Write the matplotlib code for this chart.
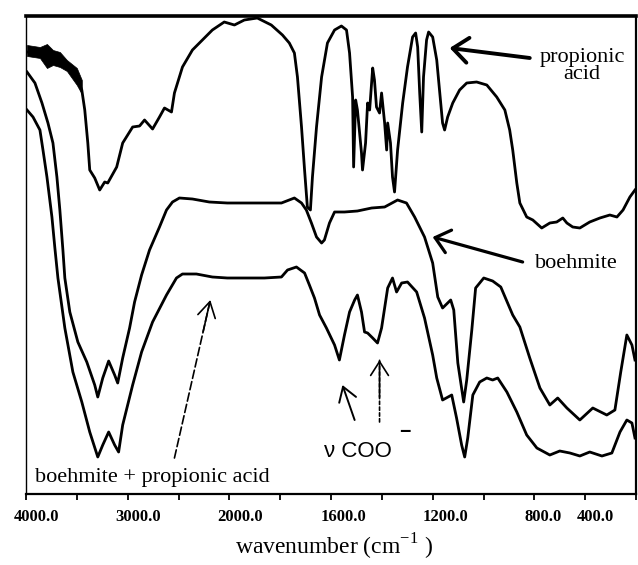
import numpy as np
import matplotlib
matplotlib.use("Agg")
import matplotlib.pyplot as plt
import matplotlib.transforms as mtransforms

plt.rcParams['font.family'] = ['Liberation Serif', 'DejaVu Serif']
plt.rcParams['mathtext.fontset'] = 'custom'
plt.rcParams['mathtext.rm'] = 'Liberation Serif'

# ---- data (transmittance, arbitrary units) ----
prop_wn = [3990, 3863, 3735, 3598, 3500, 3451, 3422, 3392, 3373, 3324,
           3275, 3226, 3196, 3108, 3049, 2951, 2883, 2834, 2755, 2687,
           2638, 2569, 2540, 2461, 2363, 2265, 2167, 2050, 1980, 1941,
           1890, 1835, 1791, 1764, 1744, 1732, 1716, 1704, 1693, 1681,
           1673, 1657, 1637, 1614, 1586, 1559, 1539, 1527, 1515, 1511,
           1503, 1496, 1480, 1476, 1464, 1456, 1448, 1436, 1429, 1421,
           1409, 1401, 1389, 1381, 1377, 1366, 1358, 1350, 1338, 1318,
           1299, 1279, 1267, 1259, 1251, 1243, 1236, 1224, 1216, 1200,
           1184, 1172, 1161, 1153, 1141, 1121, 1094, 1066, 1027, 987,
           948, 916, 897, 885, 869, 857, 830, 806, 771, 739,
           712, 688, 672, 649, 621, 582, 542, 503, 475, 451,
           424, 404]
prop_val = [440, 439, 434, 427, 415, 402, 382, 349, 322, 314,
            302, 310, 309, 325, 349, 365, 366, 372, 363, 375,
            384, 380, 399, 425, 442, 452, 462, 470, 467, 472,
            474, 467, 457, 449, 439, 415, 365, 322, 285, 282,
            315, 365, 415, 449, 462, 466, 462, 439, 395, 325,
            392, 382, 339, 322, 349, 389, 382, 424, 412, 385,
            379, 399, 369, 342, 369, 349, 315, 300, 342, 389,
            425, 455, 459, 445, 399, 360, 415, 452, 460, 455,
            432, 399, 369, 362, 375, 389, 402, 409, 410, 407,
            395, 382, 362, 342, 309, 289, 275, 272, 264, 269,
            270, 274, 269, 265, 264, 270, 274, 277, 275, 282,
            295, 302]

# noisy start of the propionic acid trace (upper / lower envelope)
noise_wn = [3990, 3863, 3794, 3735, 3667, 3598, 3500, 3451]
noise_hi = [447, 445, 448, 442, 440, 432, 424, 412]
noise_lo = [436, 434, 424, 427, 425, 421, 407, 398]

boeh_wn = [3990, 3912, 3843, 3784, 3735, 3696, 3667, 3637, 3618, 3569,
           3490, 3402, 3324, 3294, 3245, 3187, 3128, 3098, 3049, 2981,
           2932, 2863, 2785, 2687, 2618, 2559, 2491, 2363, 2197, 2020,
           1941, 1862, 1795, 1744, 1716, 1697, 1677, 1657, 1637, 1626,
           1606, 1586, 1547, 1496, 1440, 1389, 1338, 1303, 1271, 1232,
           1200, 1180, 1161, 1129, 1117, 1101, 1078, 1066, 1046, 1031,
           999, 964, 932, 885, 857, 818, 778, 739, 708, 672,
           621, 570, 515, 483, 460, 436, 416, 404]
boeh_val = [420, 409, 389, 369, 349, 315, 282, 242, 214, 180,
            150, 130, 107, 95, 114, 131, 117, 109, 134, 164,
            190, 217, 242, 265, 282, 290, 294, 293, 290, 289,
            289, 289, 289, 294, 289, 282, 269, 255, 249, 252,
            269, 280, 280, 281, 284, 285, 292, 289, 275, 255,
            229, 195, 184, 192, 182, 129, 90, 112, 162, 204,
            214, 211, 205, 177, 165, 134, 104, 87, 94, 84,
            72, 84, 77, 82, 120, 157, 147, 132]

mix_wn = [3990, 3931, 3863, 3833, 3794, 3745, 3716, 3686, 3618, 3539,
          3451, 3373, 3294, 3245, 3187, 3128, 3089, 3049, 2951, 2863,
          2755, 2618, 2520, 2461, 2324, 2167, 2020, 1941, 1862, 1795,
          1771, 1736, 1704, 1685, 1665, 1645, 1618, 1586, 1567, 1547,
          1527, 1507, 1496, 1480, 1468, 1456, 1436, 1417, 1401, 1377,
          1358, 1342, 1322, 1299, 1263, 1232, 1200, 1184, 1161, 1125,
          1106, 1086, 1074, 1062, 1042, 1015, 987, 964, 944, 908,
          869, 830, 790, 739, 700, 660, 621, 582, 534, 495,
          463, 436, 416, 404]
mix_val = [382, 375, 362, 342, 315, 275, 244, 214, 164, 120,
           90, 60, 35, 47, 60, 47, 40, 67, 107, 140,
           170, 197, 214, 218, 218, 215, 214, 214, 214, 215,
           222, 225, 219, 207, 194, 177, 164, 147, 132, 157,
           180, 192, 197, 180, 160, 159, 154, 149, 164, 204,
           214, 200, 209, 210, 200, 174, 137, 114, 92, 97,
           74, 47, 35, 54, 97, 110, 114, 112, 114, 100,
           80, 57, 44, 37, 41, 39, 36, 40, 36, 39,
           60, 72, 69, 54]

major_ticks = [4000, 3000, 2000, 1600, 1200, 800, 400]
minor_ticks = [3500, 2500, 1800, 1400, 1000, 600]
tick_labels = ['4000.0', '3000.0', '2000.0', '1600.0', '1200.0', '800.0', '400.0']


# scale change at 2000 cm-1 (2.5x expansion below 2000)
def forward(w):
    w = np.asarray(w, dtype=float)
    return np.where(w > 2000, 2000 + (w - 2000) / 2.5, w)


def inverse(u):
    u = np.asarray(u, dtype=float)
    return np.where(u > 2000, 2000 + (u - 2000) * 2.5, u)


def arrow(ax, tip, tail, lw, ls='-', hl=0.6, hw=0.3, frac=0.5):
    style = '->,head_length=%g,head_width=%g' % (hl, hw)
    if ls == '-':
        ax.annotate('', xy=tip, xytext=tail,
                    arrowprops=dict(arrowstyle=style, lw=lw, color='black',
                                    mutation_scale=20, shrinkA=0, shrinkB=0))
        return
    # dashed shaft, solid head
    ax.annotate('', xy=tip, xytext=tail,
                arrowprops=dict(arrowstyle='-', lw=lw, ls=ls, color='black',
                                shrinkA=0, shrinkB=0))
    near = (tip[0] + frac * (tail[0] - tip[0]), tip[1] + frac * (tail[1] - tip[1]))
    ax.annotate('', xy=tip, xytext=near,
                arrowprops=dict(arrowstyle=style, lw=lw, color='black',
                                mutation_scale=20, shrinkA=0, shrinkB=0))


fig = plt.figure(figsize=(6.38, 5.65), dpi=100)
ax = fig.add_axes([26 / 638, 1 - 494 / 565, 610 / 638, 478 / 565])
ax.set_xscale('function', functions=(forward, inverse))
ax.set_xlim(4000, 400)
ax.set_ylim(-2, 476)

lw = 2.0
ax.plot(prop_wn, prop_val, color='black', lw=lw)
ax.fill_between(noise_wn, noise_lo, noise_hi, color='black', lw=0.5)
ax.plot(boeh_wn, boeh_val, color='black', lw=lw)
ax.plot(mix_wn, mix_val, color='black', lw=lw)

# frame and ticks
for side in ['bottom', 'right']:
    ax.spines[side].set_linewidth(1.6)
ax.spines['top'].set_linewidth(2.6)
ax.spines['left'].set_linewidth(1.0)
ax.set_yticks([])
ax.set_xticks(major_ticks)
ax.set_xticks(minor_ticks, minor=True)
ax.set_xticklabels(tick_labels, fontsize=12, fontweight='bold')
ax.tick_params(axis='x', which='both', direction='out', length=4, width=1.3, pad=7)

offsets = [11, 10, 11, 12, 13, 9, -41]
for lab, dx in zip(ax.get_xticklabels(), offsets):
    lab.set_transform(lab.get_transform() +
                      mtransforms.ScaledTranslation(dx / 100, 0, fig.dpi_scale_trans))

fig.text(334 / 638, 1 - 547 / 565, 'wavenumber (cm$^{-1}$ )', fontsize=17,
         ha='center', va='center')

# labels and arrows
ax.text(613, 426, 'propionic\nacid', fontsize=16, ha='center', va='center',
        linespacing=0.9)
arrow(ax, (1133, 444), (818, 434), lw=2.8, hl=0.55, hw=0.45)

ax.text(633, 229, 'boehmite', fontsize=16, ha='center', va='center')
arrow(ax, (1200, 255), (846, 230), lw=2.3, hl=0.5, hw=0.42)

ax.text(3912, 10, 'boehmite + propionic acid', fontsize=16, ha='left',
        va='baseline')
arrow(ax, (2187, 192), (2540, 34), lw=1.2, ls=(0, (5, 2)), hl=0.55, hw=0.32,
      frac=0.2)

ax.text(1626, 35, '\u03bd COO', fontsize=16, ha='left', va='baseline',
        family=['Liberation Sans', 'DejaVu Sans'])
ax.text(1310, 60, '\u2212', fontsize=14, ha='center', va='center',
        family=['Liberation Sans', 'DejaVu Sans'], fontweight='bold')
arrow(ax, (1555, 107), (1507, 72), lw=1.4, hl=0.5, hw=0.32)
arrow(ax, (1409, 132), (1409, 70), lw=1.2, ls=(0, (2, 1.5)), hl=0.5, hw=0.32,
      frac=0.6)

fig.savefig('out.png', dpi=100)
